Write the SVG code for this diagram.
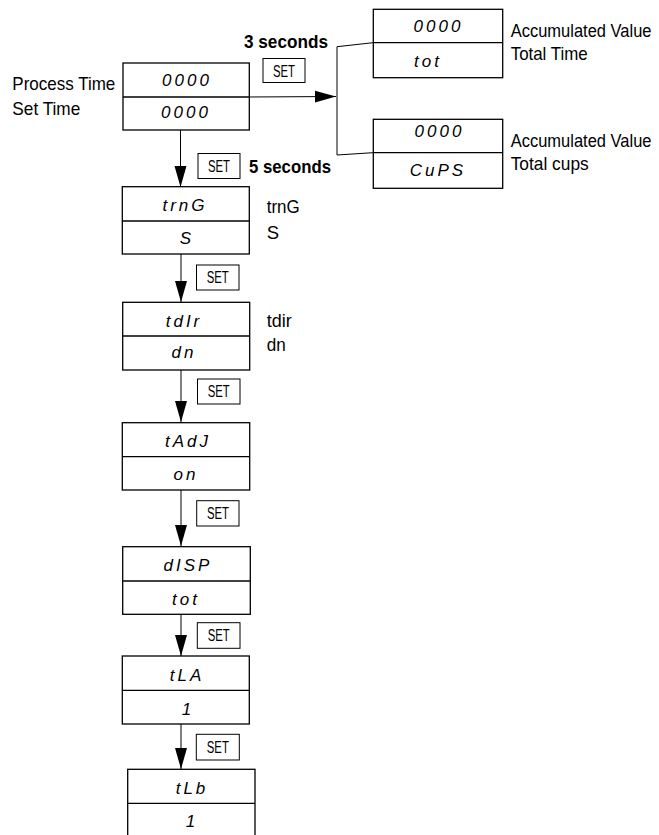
<svg xmlns="http://www.w3.org/2000/svg" width="659" height="835" viewBox="0 0 659 835">
<defs>
<style>
.box{fill:#fff;stroke:#000;stroke-width:1.3}
.div{stroke:#000;stroke-width:1.3}
.ln{stroke:#000;stroke-width:1;fill:none}
.btn{fill:#fff;stroke:#000;stroke-width:1}
.lbl{font-family:"Liberation Sans",Arial,sans-serif;font-size:18.5px;fill:#000}
.acc{font-family:"Liberation Sans",Arial,sans-serif;font-size:16.5px;fill:#000}
.bold{font-family:"Liberation Sans",Arial,sans-serif;font-size:18.5px;font-weight:bold;fill:#000}
.set{font-family:"Liberation Sans",Arial,sans-serif;font-size:16px;fill:#000;text-anchor:middle}
.seg{font-family:"Liberation Sans",Arial,sans-serif;font-style:italic;font-size:17px;fill:#000;text-anchor:middle;letter-spacing:3px}
</style>
<marker id="ah" markerUnits="userSpaceOnUse" markerWidth="22" markerHeight="14" refX="21" refY="7" orient="auto">
<path d="M0,1 L21,7 L0,13 Z" fill="#000"/>
</marker>
</defs>

<g id="connectors">
<line class="ln" x1="180.5" y1="130" x2="180.5" y2="187" marker-end="url(#ah)"/>
<line class="ln" x1="181" y1="254" x2="181" y2="302" marker-end="url(#ah)"/>
<line class="ln" x1="181" y1="370" x2="181" y2="422" marker-end="url(#ah)"/>
<line class="ln" x1="181" y1="490" x2="181" y2="546" marker-end="url(#ah)"/>
<line class="ln" x1="181" y1="614" x2="181" y2="656" marker-end="url(#ah)"/>
<line class="ln" x1="181" y1="724" x2="181" y2="769" marker-end="url(#ah)"/>
<line class="ln" x1="249" y1="97" x2="336" y2="96.5" marker-end="url(#ah)"/>
<polyline class="ln" points="373,42.7 337,46.7 337,155 373,152.7"/>
</g>

<g id="set-buttons">
<rect class="btn" x="263" y="58.5" width="42" height="24"/><text class="set" x="284" y="76.5" textLength="22" lengthAdjust="spacingAndGlyphs">SET</text>
<rect class="btn" x="198" y="153.5" width="42" height="25"/><text class="set" x="219" y="172" textLength="22" lengthAdjust="spacingAndGlyphs">SET</text>
<rect class="btn" x="196.5" y="265" width="42.5" height="25"/><text class="set" x="217.7" y="283.3" textLength="22" lengthAdjust="spacingAndGlyphs">SET</text>
<rect class="btn" x="197.5" y="379" width="42.5" height="25"/><text class="set" x="218.7" y="397.3" textLength="22" lengthAdjust="spacingAndGlyphs">SET</text>
<rect class="btn" x="196.7" y="500.7" width="42.3" height="25.3"/><text class="set" x="217.9" y="519" textLength="22" lengthAdjust="spacingAndGlyphs">SET</text>
<rect class="btn" x="197.3" y="622.7" width="42.7" height="25.6"/><text class="set" x="218.7" y="641.3" textLength="22" lengthAdjust="spacingAndGlyphs">SET</text>
<rect class="btn" x="196.3" y="734.3" width="43" height="25.7"/><text class="set" x="217.8" y="752.8" textLength="22" lengthAdjust="spacingAndGlyphs">SET</text>
</g>

<g id="timing-labels">
<text class="bold" x="244" y="48" textLength="84" lengthAdjust="spacingAndGlyphs">3 seconds</text>
<text class="bold" x="249" y="172.7" textLength="82" lengthAdjust="spacingAndGlyphs">5 seconds</text>
</g>

<g id="node-process">
<rect class="box" x="123" y="63" width="126.3" height="67"/>
<line class="div" x1="123" y1="97" x2="249.3" y2="97"/>
<text class="seg" x="187" y="85.5">0000</text>
<text class="seg" x="186" y="118.3" font-size="16">0000</text>
<text class="lbl" x="12.3" y="90" textLength="103" lengthAdjust="spacingAndGlyphs">Process Time</text>
<text class="lbl" x="12.3" y="115" textLength="68" lengthAdjust="spacingAndGlyphs">Set Time</text>
</g>

<g id="node-tot">
<rect class="box" x="373.3" y="9.3" width="129.4" height="68.4"/>
<line class="div" x1="373.3" y1="42.7" x2="502.7" y2="42.7"/>
<text class="seg" x="438.5" y="31.7">0000</text>
<text class="seg" x="428" y="66.7" font-size="14" letter-spacing="9">tot</text>
<text class="acc" transform="translate(510.7,37.3) scale(1,1.12)">Accumulated Value</text>
<text class="lbl" x="510.7" y="60" textLength="77" lengthAdjust="spacingAndGlyphs">Total Time</text>
</g>

<g id="node-cups">
<rect class="box" x="373.3" y="119.3" width="129.4" height="69"/>
<line class="div" x1="373.3" y1="152.7" x2="502.7" y2="152.7"/>
<text class="seg" x="439.5" y="137">0000</text>
<text class="seg" x="438" y="176" font-size="15" letter-spacing="7">CuPS</text>
<text class="acc" transform="translate(510.7,146.7) scale(1,1.12)">Accumulated Value</text>
<text class="lbl" x="510.7" y="170" textLength="78" lengthAdjust="spacingAndGlyphs">Total cups</text>
</g>

<g id="node-trnG">
<rect class="box" x="122.3" y="186.7" width="127" height="67.3"/>
<line class="div" x1="122.3" y1="221" x2="249.3" y2="221"/>
<text class="seg" x="185" y="210.7" letter-spacing="7">trnG</text>
<text class="seg" x="187" y="244" font-size="15">S</text>
<text class="lbl" x="266.7" y="213.3" textLength="33" lengthAdjust="spacingAndGlyphs">trnG</text>
<text class="lbl" x="266.7" y="239">S</text>
</g>

<g id="node-tdir">
<rect class="box" x="122.7" y="302.3" width="127" height="67.7"/>
<line class="div" x1="122.7" y1="336" x2="249.7" y2="336"/>
<text class="seg" x="184" y="327" letter-spacing="5">tdIr</text>
<text class="seg" x="184" y="358" letter-spacing="6">dn</text>
<text class="lbl" x="266.7" y="326.7" textLength="25" lengthAdjust="spacingAndGlyphs">tdir</text>
<text class="lbl" x="266.7" y="350.7" textLength="19" lengthAdjust="spacingAndGlyphs">dn</text>
</g>

<g id="node-tAdJ">
<rect class="box" x="122.3" y="422.7" width="127.4" height="67.3"/>
<line class="div" x1="122.3" y1="456.7" x2="249.7" y2="456.7"/>
<text class="seg" x="188" y="447" letter-spacing="6">tAdJ</text>
<text class="seg" x="186" y="479.5" letter-spacing="7">on</text>
</g>

<g id="node-dISP">
<rect class="box" x="122.7" y="546.7" width="127.6" height="67.6"/>
<line class="div" x1="122.7" y1="581" x2="250.3" y2="581"/>
<text class="seg" x="188" y="571" letter-spacing="5">dISP</text>
<text class="seg" x="186" y="604.5" font-size="14" letter-spacing="9">tot</text>
</g>

<g id="node-tLA">
<rect class="box" x="122.3" y="656" width="127" height="68"/>
<line class="div" x1="122.3" y1="690.3" x2="249.3" y2="690.3"/>
<text class="seg" x="187" y="681" letter-spacing="9">tLA</text>
<text class="seg" x="188" y="714.5">1</text>
</g>

<g id="node-tLb">
<rect class="box" x="127.7" y="769.3" width="127.3" height="80"/>
<line class="div" x1="127.7" y1="803.3" x2="255" y2="803.3"/>
<text class="seg" x="192" y="793.5" letter-spacing="9">tLb</text>
<text class="seg" x="192" y="827">1</text>
</g>
</svg>
